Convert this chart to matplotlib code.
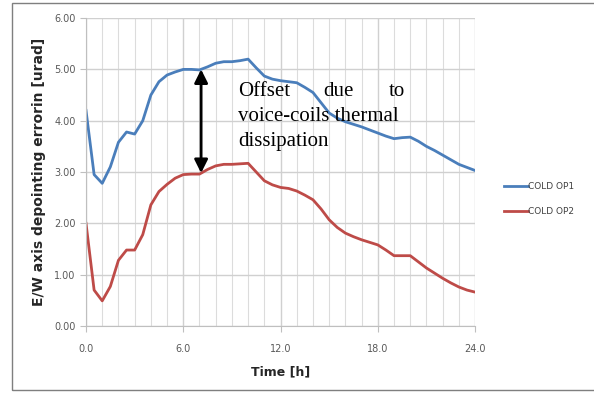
import matplotlib
matplotlib.use('Agg')
import matplotlib.pyplot as plt
import numpy as np
from matplotlib.patches import Rectangle

# time in hours, readings every 0.5 h
time_h = [0.0, 0.5, 1.0, 1.5, 2.0, 2.5, 3.0, 3.5, 4.0, 4.5, 5.0, 5.5,
          6.0, 6.5, 7.0, 7.5, 8.0, 8.5, 9.0, 9.5, 10.0, 10.5, 11.0, 11.5,
          12.0, 12.5, 13.0, 13.5, 14.0, 14.5, 15.0, 15.5, 16.0, 16.5, 17.0, 17.5,
          18.0, 18.5, 19.0, 19.5, 20.0, 20.5, 21.0, 21.5, 22.0, 22.5, 23.0, 23.5, 24.0]

cold_op1 = [4.20, 2.95, 2.78, 3.10, 3.58, 3.78, 3.74, 4.00, 4.50, 4.76, 4.89, 4.95,
            5.00, 5.00, 4.99, 5.05, 5.12, 5.15, 5.15, 5.17, 5.20, 5.03, 4.87, 4.81,
            4.78, 4.76, 4.74, 4.65, 4.55, 4.35, 4.15, 4.05, 3.98, 3.93, 3.88, 3.82,
            3.76, 3.70, 3.65, 3.67, 3.68, 3.60, 3.50, 3.42, 3.33, 3.24, 3.15, 3.09, 3.03]

cold_op2 = [2.00, 0.70, 0.49, 0.77, 1.28, 1.48, 1.48, 1.78, 2.36, 2.62, 2.76, 2.88,
            2.95, 2.96, 2.96, 3.05, 3.12, 3.15, 3.15, 3.16, 3.17, 3.00, 2.83, 2.75,
            2.70, 2.68, 2.63, 2.55, 2.46, 2.28, 2.07, 1.92, 1.81, 1.74, 1.68, 1.63,
            1.58, 1.48, 1.37, 1.37, 1.37, 1.25, 1.13, 1.03, 0.93, 0.84, 0.76, 0.70, 0.66]

series_labels = ['COLD OP1', 'COLD OP2']
x_ticks = [0.0, 6.0, 12.0, 18.0, 24.0]
y_ticks = [0.0, 1.0, 2.0, 3.0, 4.0, 5.0, 6.0]

fig = plt.figure(figsize=(5.94, 3.93), dpi=100)
ax = fig.add_axes([0.1448, 0.1705, 0.655, 0.7835])

# chart border (cropped Excel chart frame)
fig.patches.append(Rectangle((12 / 594, 3 / 393), 1.0, 1 - 6 / 393,
                             transform=fig.transFigure, fill=False,
                             edgecolor='#7f7f7f', lw=1.0, zorder=0))

ax.plot(time_h, cold_op1, color='#4a7ebb', lw=2.0, label=series_labels[0])
ax.plot(time_h, cold_op2, color='#be4b48', lw=2.0, label=series_labels[1])

ax.set_xlim(0, 24)
ax.set_ylim(0, 6)
ax.set_xticks(x_ticks)
ax.set_xticklabels([f'{t:.1f}' for t in x_ticks])
ax.set_yticks(y_ticks)
ax.set_yticklabels([f'{v:.2f}' for v in y_ticks])
ax.set_xticks(np.arange(0, 25, 1), minor=True)
ax.grid(True, which='major', color='#d0d0d0', lw=1.0)
ax.grid(True, which='minor', axis='x', color='#dcdcdc', lw=0.8)
ax.set_axisbelow(True)

for side in ['top', 'right']:
    ax.spines[side].set_visible(False)
for side in ['left', 'bottom']:
    ax.spines[side].set_color('#bfbfbf')
ax.tick_params(axis='both', which='major', labelsize=7, colors='#bfbfbf',
               labelcolor='#595959', length=4, direction='out')
ax.tick_params(axis='x', which='minor', length=0)
ax.tick_params(axis='x', pad=9)

ax.set_ylabel('E/W axis depointing errorin [urad]', fontsize=10, fontweight='bold',
              color='#262626', labelpad=6)
ax.set_xlabel('Time [h]', fontsize=9, fontweight='bold', color='#262626', labelpad=8)

# offset arrow between the two curves
ax.annotate('', xy=(7.1, 5.0), xytext=(7.1, 2.98),
            arrowprops=dict(arrowstyle='<|-|>', color='black', lw=2.0,
                            mutation_scale=20, shrinkA=0, shrinkB=0))

serif = 'Liberation Serif'
fs = 15
ax.text(9.4, 4.57, 'Offset', fontsize=fs, family=serif, ha='left', va='center')
ax.text(15.55, 4.57, 'due', fontsize=fs, family=serif, ha='center', va='center')
ax.text(19.7, 4.57, 'to', fontsize=fs, family=serif, ha='right', va='center')
ax.text(9.4, 4.08, 'voice-coils thermal', fontsize=fs, family=serif,
        ha='left', va='center')
ax.text(9.4, 3.59, 'dissipation', fontsize=fs, family=serif, ha='left', va='center')

leg = fig.legend(loc='upper left', bbox_to_anchor=(0.835, 0.557), frameon=False,
                 fontsize=6.5, handlelength=2.6, handletextpad=0.1,
                 labelspacing=1.75)
for t in leg.get_texts():
    t.set_color('#404040')

fig.savefig('out.png', dpi=100)
